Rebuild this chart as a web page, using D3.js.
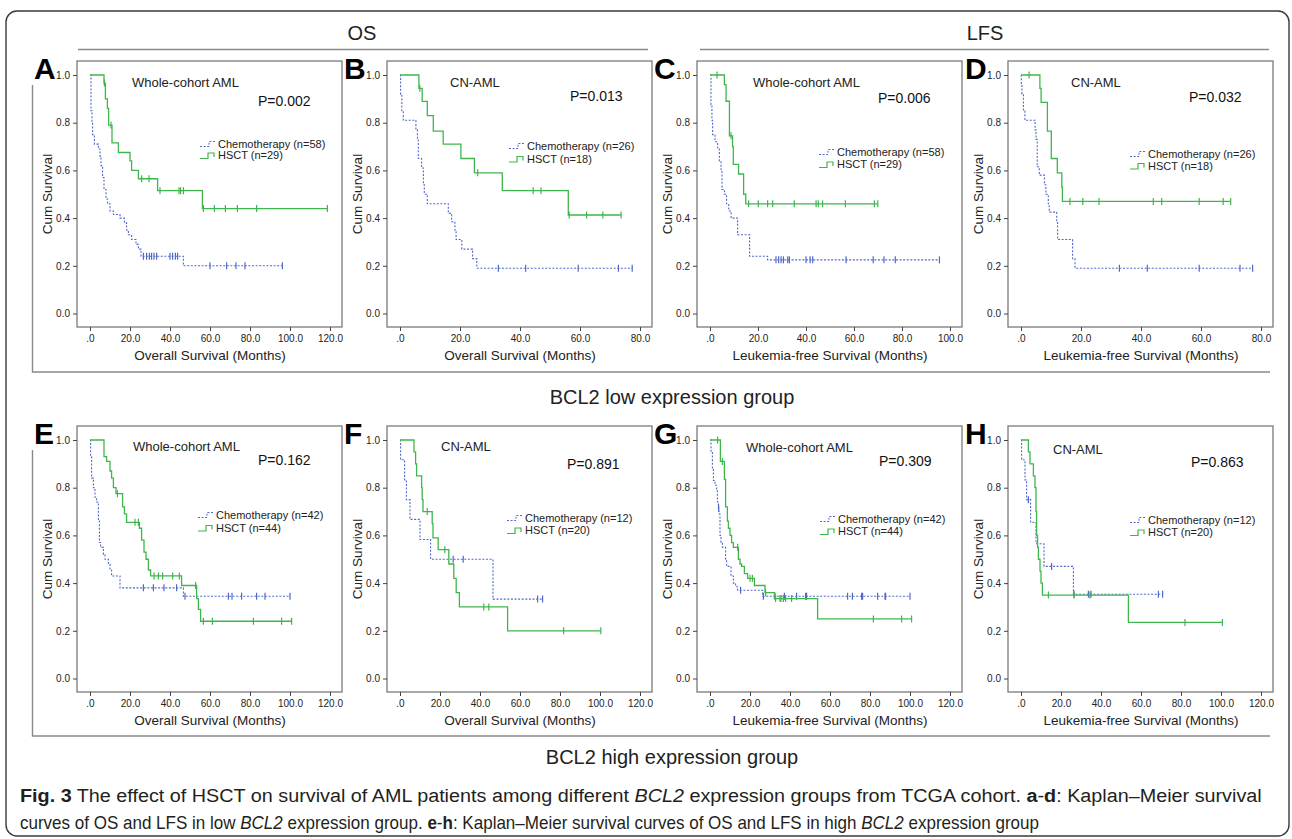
<meta charset="utf-8" />
<style>
	body { margin: 0; background: #fff; }
	svg { display: block; font-family: 'Liberation Sans', Arial, sans-serif; }
</style>
<svg width="1292" height="839"></svg>
<script src="https://d3js.org/d3.v7.min.js"></script>
<script>
	// panel info
	var letters = ['A', 'B', 'C', 'D', 'E', 'F', 'G', 'H'];
	var subtitles = ['Whole-cohort AML', 'CN-AML', 'Whole-cohort AML', 'CN-AML', 'Whole-cohort AML', 'CN-AML', 'Whole-cohort AML', 'CN-AML'];
	var pValues = ['P=0.002', 'P=0.013', 'P=0.006', 'P=0.032', 'P=0.162', 'P=0.891', 'P=0.309', 'P=0.863'];
	var chemoN = [58, 26, 58, 26, 42, 12, 42, 12];
	var hsctN = [29, 18, 29, 18, 44, 20, 44, 20];
	var xMax = [120, 80, 100, 80, 120, 120, 120, 120];
	var xTitles = ['Overall Survival (Months)', 'Overall Survival (Months)', 'Leukemia-free Survival (Months)', 'Leukemia-free Survival (Months)',
		'Overall Survival (Months)', 'Overall Survival (Months)', 'Leukemia-free Survival (Months)', 'Leukemia-free Survival (Months)'];
	var yTicks = [0, 0.2, 0.4, 0.6, 0.8, 1.0];

	// Kaplan-Meier steps: [month, survival after the drop]; censored times
	var chemoA = [[0,1],[0.5,0.85],[1,0.8],[1.3,0.75],[2.2,0.71],[4.2,0.69],[5,0.66],[5.5,0.62],[6.3,0.57],[7,0.52],[8,0.48],[8.8,0.46],[10,0.43],[11.7,0.415],[15,0.4],[17.2,0.38],[18.3,0.35],[19.2,0.33],[20.8,0.31],[23,0.29],[24.2,0.27],[25.5,0.24],[46.7,0.2]];
	var chemoCensA = [26.7,28.3,29.7,30.8,32,33.3,40,41.3,42.7,43.8,60,68.3,73,77.5,96.2];
	var hsctA = [[0,1],[7,0.966],[7.7,0.9],[8.7,0.86],[9.3,0.79],[11,0.715],[14.2,0.675],[20,0.64],[20.8,0.6],[24.2,0.565],[33.8,0.515],[56.2,0.44]];
	var hsctCensA = [7.2,10.5,25.8,29.5,35,44.5,45.3,46.7,56.7,62.2,67.7,73.7,83.3,118.7];

	var chemoB = [[0,1],[0.2,0.92],[0.6,0.85],[1.1,0.81],[5.3,0.77],[5.8,0.73],[6.1,0.65],[7.2,0.61],[7.8,0.54],[8.1,0.5],[9.1,0.46],[16.1,0.42],[17.2,0.385],[18.3,0.35],[18.7,0.31],[20.6,0.27],[24.2,0.23],[25.6,0.19]];
	var chemoCensB = [32.8,41.9,59.4,72.8,77.4];
	var hsctB = [[0,1],[6.3,0.944],[7.4,0.889],[9.1,0.83],[11.1,0.765],[14.4,0.71],[20.3,0.65],[24.8,0.59],[34.1,0.515],[56.1,0.413]];
	var hsctCensB = [6.6,25.9,44.4,47,56.4,62.2,67.6,73.7];

	var chemoC = [[0,1],[0.4,0.875],[0.8,0.81],[1.1,0.75],[2.1,0.72],[3.2,0.69],[3.9,0.64],[4.6,0.6],[5,0.52],[6,0.5],[6.9,0.46],[7.8,0.43],[8.8,0.4],[11.5,0.33],[16.5,0.24],[24,0.225]];
	var chemoCensC = [27.5,28.6,29.6,30.6,32.4,33.1,40,41.7,42.8,56.7,68,72.5,77.2,95.6];
	var hsctC = [[0,1],[6,0.96],[6.7,0.89],[8.1,0.745],[9.4,0.7],[9.7,0.625],[11.9,0.585],[14,0.5],[14.9,0.46]];
	var hsctCensC = [2.9,8.75,16.1,20.1,24,26.1,35.1,44.2,45.1,46.9,56.4,68.5,69.9];

	var chemoD = [[0,1],[0.1,0.96],[0.3,0.92],[0.8,0.85],[1.3,0.81],[4.7,0.77],[5,0.73],[5.4,0.615],[6.1,0.58],[7.8,0.54],[8.3,0.5],[9.1,0.46],[9.4,0.425],[11.9,0.385],[12.2,0.31],[17.2,0.23],[18,0.19]];
	var chemoCensD = [32.8,42.1,59.4,73,77.2];
	var hsctD = [[0,1],[6.3,0.944],[6.7,0.885],[8.8,0.765],[10.1,0.65],[12.1,0.59],[13.6,0.53],[13.8,0.47]];
	var hsctCensD = [2.7,16.3,20.6,26,44.1,46.9,59.4,67.4,69.9];

	var chemoE = [[0,1],[0.3,0.93],[0.8,0.84],[1.7,0.8],[2.5,0.76],[3.3,0.74],[4.2,0.66],[4.7,0.57],[5.3,0.55],[6.7,0.52],[7.5,0.5],[9.2,0.48],[10,0.455],[10.8,0.43],[15,0.38],[46.7,0.345]];
	var chemoCensE = [26.7,31.7,37,43.3,47.5,69.2,71,75.8,83.3,87.5,100];
	var hsctE = [[0,1],[7,0.93],[8.3,0.91],[10,0.87],[10.8,0.84],[11.7,0.8],[13,0.775],[16.3,0.72],[17.2,0.69],[18.3,0.655],[24.7,0.63],[25.8,0.58],[27,0.53],[28,0.5],[29.2,0.455],[30.3,0.43],[45.8,0.39],[53.3,0.335],[54.2,0.29],[55.3,0.24]];
	var hsctCensE = [13.7,22.5,24.2,32,34.2,36.3,41.3,44.7,52.8,56.7,61.2,81.7,95.8,100.8];

	var chemoF = [[0,1],[0.3,0.917],[2.3,0.833],[3.2,0.75],[5,0.667],[10,0.583],[15.3,0.5],[46.5,0.333]];
	var chemoCensF = [26.6,31.6,68.8,71.3];
	var hsctF = [[0,1],[7,0.95],[7.8,0.9],[8.3,0.85],[10.8,0.8],[11.1,0.75],[11.5,0.7],[16.1,0.65],[16.5,0.59],[19.1,0.54],[24.4,0.48],[26.9,0.42],[28.1,0.36],[29.7,0.3],[53.8,0.2]];
	var hsctCensF = [13.6,22.4,41.9,44.4,81.8,100.4];

	var chemoG = [[0,1],[0.5,0.95],[1.2,0.88],[1.7,0.83],[2.5,0.81],[3.3,0.79],[3.7,0.74],[4.2,0.715],[4.5,0.69],[5,0.6],[5.5,0.57],[6.2,0.55],[7.8,0.5],[8.3,0.47],[10.5,0.43],[11.7,0.4],[12.8,0.385],[13.8,0.37],[26.3,0.345]];
	var chemoCensG = [4.3,15.3,26.7,32.5,37.2,43.3,47.8,48.3,68.8,71.2,75.8,76.3,83.8,87.5,87.8,100];
	var hsctG = [[0,1],[5.2,0.91],[7.2,0.835],[7.8,0.72],[8.7,0.66],[9.2,0.63],[10,0.6],[10.8,0.57],[11.7,0.55],[14.2,0.5],[15,0.48],[15.8,0.47],[17.2,0.44],[18.8,0.42],[22.2,0.39],[27.5,0.36],[32.2,0.335],[53.8,0.25]];
	var hsctCensG = [3.8,6.2,13.8,20,21.2,27.8,32.8,35,35.5,36.7,37.8,40.8,81.7,95.8,100.8];

	var chemoH = [[0,1],[0.3,0.917],[2,0.833],[2.8,0.75],[4.8,0.655],[7.5,0.565],[11.5,0.47],[26.2,0.353]];
	var chemoCensH = [3.7,15.3,26.5,33.7,35,68.7,70.8];
	var hsctH = [[0,1],[3.7,0.95],[4.5,0.9],[6.2,0.85],[7,0.8],[7.5,0.7],[7.8,0.6],[8.3,0.55],[8.7,0.5],[9.5,0.45],[10,0.4],[10.7,0.35],[53.7,0.235]];
	var hsctCensH = [13.7,26.5,34.5,82,100.7];

	var chemoSteps = [chemoA, chemoB, chemoC, chemoD, chemoE, chemoF, chemoG, chemoH];
	var chemoCens = [chemoCensA, chemoCensB, chemoCensC, chemoCensD, chemoCensE, chemoCensF, chemoCensG, chemoCensH];
	var hsctSteps = [hsctA, hsctB, hsctC, hsctD, hsctE, hsctF, hsctG, hsctH];
	var hsctCens = [hsctCensA, hsctCensB, hsctCensC, hsctCensD, hsctCensE, hsctCensF, hsctCensG, hsctCensH];

	// layout
	var lefts = [77, 387, 697, 1008];
	var tops = [61, 426];
	var fw = 265, fh = 266;
	var subPos = [[55, 21], [63, 21], [56, 21], [63, 21], [56, 20], [54, 20], [49, 21], [45, 23]];
	var pPos = [[181, 40], [183, 35], [181, 37], [181, 36], [181, 34], [180, 38], [182, 35], [183, 36]];
	var legPos = [[141, 83], [140, 85], [140, 91], [140, 93], [139, 89], [138, 92], [141, 93], [140, 94]];
	var legGap = [11.5, 13, 12.5, 12, 13, 12.5, 12.5, 12.5];

	var blue = '#4f68cc', green = '#3fb64c', frameCol = '#7a7a7a';

	var svg = d3.select('svg');

	// outer rounded frame
	svg.append('rect').attr('x', 6).attr('y', 11).attr('width', 1283).attr('height', 825)
		.attr('rx', 11).attr('fill', 'none').attr('stroke', '#3a3a3a').attr('stroke-width', 1.4);

	// column headers
	[['OS', 362, 78, 648], ['LFS', 985, 700, 1269]].forEach(h => {
		svg.append('text').attr('x', h[1]).attr('y', 40).attr('text-anchor', 'middle')
			.style('font-size', '20px').attr('fill', '#222').text(h[0]);
		svg.append('line').attr('x1', h[2]).attr('x2', h[3]).attr('y1', 49.5).attr('y2', 49.5)
			.attr('stroke', '#8a8a8a').attr('stroke-width', 1.6);
	});

	// row group frames and titles
	[[372, 85, 'BCL2 low expression group', 404], [736, 450, 'BCL2 high expression group', 764]].forEach(r => {
		svg.append('path').attr('d', 'M32.5,' + r[1] + 'V' + r[0] + 'H1270')
			.attr('fill', 'none').attr('stroke', '#8a8a8a').attr('stroke-width', 1.4);
		svg.append('text').attr('x', 672).attr('y', r[3]).attr('text-anchor', 'middle')
			.style('font-size', '20px').attr('fill', '#222').text(r[2]);
	});

	function survAt(steps, t) {
		var s = 1;
		steps.forEach(d => { if (d[0] <= t) s = d[1]; });
		return s;
	}

	letters.forEach((letter, i) => {
		var L = lefts[i % 4], T = tops[Math.floor(i / 4)];
		var x = d3.scaleLinear().domain([0, xMax[i]]).range([L + 13, L + 253]);
		var y = d3.scaleLinear().domain([0, 1]).range([T + 252.5, T + 14]);
		var g = svg.append('g');

		g.append('rect').attr('x', L).attr('y', T).attr('width', fw).attr('height', fh)
			.attr('fill', 'none').attr('stroke', frameCol).attr('stroke-width', 1.3);

		var yAxis = g.append('g').attr('transform', 'translate(' + L + ',0)')
			.call(d3.axisLeft(y).tickValues(yTicks).tickSize(4).tickPadding(3).tickFormat(d3.format('.1f')));
		var xAxis = g.append('g').attr('transform', 'translate(0,' + (T + fh) + ')')
			.call(d3.axisBottom(x).tickValues(d3.range(0, xMax[i] + 1, 20)).tickSize(4).tickPadding(4)
				.tickFormat(d => d === 0 ? '.0' : d3.format('.1f')(d)));
		[yAxis, xAxis].forEach(a => {
			a.select('.domain').remove();
			a.selectAll('line').attr('stroke', '#444');
			a.selectAll('text').attr('fill', '#222').style('font-size', '10px').style('font-family', "'Liberation Sans', Arial");
		});

		g.append('text').attr('transform', 'translate(' + (L - 30) + ',' + (T + 133) + ') rotate(-90)')
			.attr('text-anchor', 'middle').attr('dy', '0.35em').style('font-size', '13.5px').attr('fill', '#222').text('Cum Survival');
		g.append('text').attr('x', L + 133).attr('y', T + 294).attr('dy', '0.35em').attr('text-anchor', 'middle')
			.style('font-size', '13.5px').attr('fill', '#222').text(xTitles[i]);

		// curves
		var line = d3.line().x(d => x(d[0])).y(d => y(d[1])).curve(d3.curveStepAfter);
		[[chemoSteps[i], chemoCens[i], blue, '2,1.6', 1.1], [hsctSteps[i], hsctCens[i], green, null, 1.3]].forEach(c => {
			var steps = c[0], cens = c[1];
			var end = Math.max(d3.max(cens), steps[steps.length - 1][0]);
			var pts = steps.concat([[end, steps[steps.length - 1][1]]]);
			g.append('path').datum(pts).attr('d', line).attr('fill', 'none')
				.attr('stroke', c[2]).attr('stroke-width', c[4]).attr('stroke-dasharray', c[3]);
			g.selectAll(null).data(cens).enter().append('line')
				.attr('x1', d => x(d)).attr('x2', d => x(d))
				.attr('y1', d => y(survAt(steps, d)) - 3.5).attr('y2', d => y(survAt(steps, d)) + 3.5)
				.attr('stroke', c[2]).attr('stroke-width', 1.2);
		});

		// labels
		g.append('text').attr('x', L + subPos[i][0]).attr('y', T + subPos[i][1]).attr('dy', '0.35em')
			.style('font-size', '13px').attr('fill', '#222').text(subtitles[i]);
		g.append('text').attr('x', L + pPos[i][0]).attr('y', T + pPos[i][1]).attr('dy', '0.35em')
			.style('font-size', '14px').attr('fill', '#111').text(pValues[i]);

		// legend
		var lx = L + legPos[i][0], ly = T + legPos[i][1];
		g.append('path').attr('d', 'M' + (lx - 18) + ',' + (ly + 2.5) + 'H' + (lx - 9) + 'V' + (ly - 2.5) + 'H' + (lx - 3))
			.attr('fill', 'none').attr('stroke', blue).attr('stroke-dasharray', '2,1.6');
		g.append('text').attr('x', lx).attr('y', ly).attr('dy', '0.35em').style('font-size', '11px')
			.attr('fill', '#222').text('Chemotherapy (n=' + chemoN[i] + ')');
		var ly2 = ly + legGap[i];
		g.append('path').attr('d', 'M' + (lx - 18) + ',' + (ly2 + 3) + 'H' + (lx - 10) + 'V' + (ly2 - 2.5) + 'H' + (lx - 4) + 'V' + (ly2 + 1.5))
			.attr('fill', 'none').attr('stroke', green).attr('stroke-width', 1.2);
		g.append('text').attr('x', lx).attr('y', ly2).attr('dy', '0.35em').style('font-size', '11px')
			.attr('fill', '#222').text('HSCT (n=' + hsctN[i] + ')');

		// panel letter
		svg.append('text').attr('x', L - 43).attr('y', T + 18).style('font-size', '30px').style('font-weight', 'bold')
			.style('font-family', "'Liberation Sans', Arial").attr('fill', '#000').text(letter);
	});

	// caption, squeezed horizontally to the condensed width of the original
	function caption(parts, yPos, width) {
		var t = svg.append('text').attr('x', 0).attr('y', 0).style('font-size', '18px').attr('fill', '#231f20');
		parts.forEach(p => {
			var s = t.append('tspan').text(p[0]);
			if (p[1] === 'bold') s.style('font-weight', 'bold');
			if (p[1] === 'italic') s.style('font-style', 'italic');
		});
		var len = t.node().getComputedTextLength();
		t.attr('transform', 'translate(20,' + yPos + ') scale(' + (width / len) + ',1)');
	}
	caption([['Fig. 3', 'bold'], [' The effect of HSCT on survival of AML patients among different '], ['BCL2', 'italic'],
		[' expression groups from TCGA cohort. '], ['a', 'bold'], ['-'], ['d', 'bold'], [': Kaplan–Meier survival']], 802, 1242);
	caption([['curves of OS and LFS in low '], ['BCL2', 'italic'], [' expression group. '], ['e', 'bold'], ['-'], ['h', 'bold'],
		[': Kaplan–Meier survival curves of OS and LFS in high '], ['BCL2', 'italic'], [' expression group']], 829, 1020);
</script>
